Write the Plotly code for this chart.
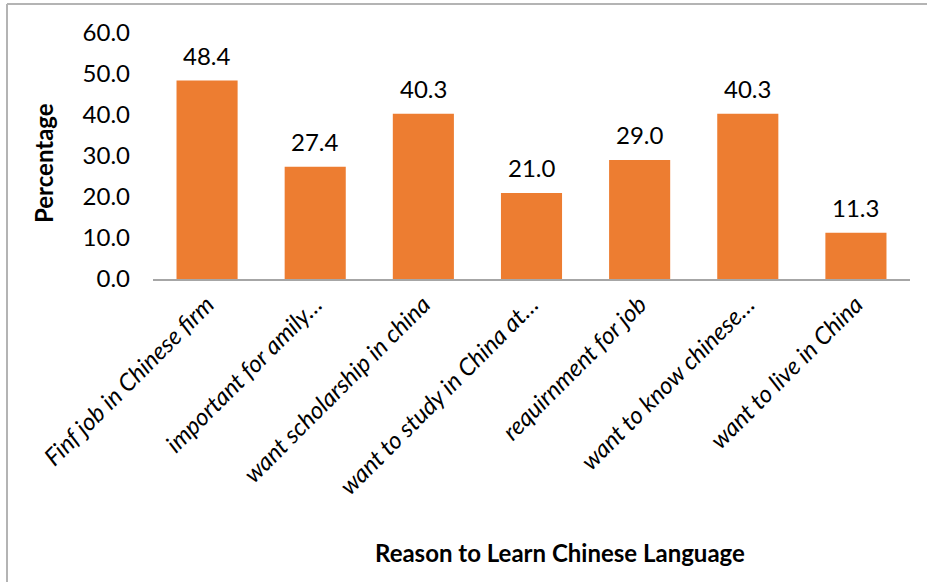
import plotly.graph_objects as go

# Survey: reasons for learning Chinese (percentage of respondents)
reasons = [
    "Finf job in Chinese firm",
    "important for amily…",
    "want scholarship in china",
    "want to study in China at…",
    "requirnment for job",
    "want to know chinese…",
    "want to live in China",
]
percentages = [48.4, 27.4, 40.3, 21.0, 29.0, 40.3, 11.3]
y_ticks = [0, 10, 20, 30, 40, 50, 60]

W, H = 927, 582
ML, MR, MT, MB = 153, 17, 33, 303
FONT = "Lato, Calibri, sans-serif"
BAR = "#ED7D31"
BORDER = "#B4B4B4"

pw, ph = W - ML - MR, H - MT - MB


def px_x(p):
    return (p - ML) / pw


def px_y(p):
    return (H - MB - p) / ph


fig = go.Figure(
    go.Bar(
        x=reasons,
        y=percentages,
        marker=dict(color=BAR, line=dict(width=0)),
        hoverinfo="x+y",
    )
)

# value labels above bars
for r, v in zip(reasons, percentages):
    fig.add_annotation(
        x=r, y=v, text=f"{v:.1f}", showarrow=False,
        yanchor="bottom", yshift=9,
        font=dict(family=FONT, size=24, color="#000000"),
    )

# axis titles
fig.add_annotation(
    xref="paper", yref="paper", x=px_x(43), y=px_y(163),
    xanchor="center", yanchor="middle",
    text="<b>Percentage</b>", textangle=-90, showarrow=False,
    font=dict(family=FONT, size=24, color="#000000"),
)
fig.add_annotation(
    xref="paper", yref="paper", x=px_x(560), y=px_y(552),
    xanchor="center", yanchor="middle",
    text="<b>Reason to Learn Chinese Language</b>", showarrow=False,
    font=dict(family=FONT, size=24, color="#000000"),
)

# chart-area frame (top and left edges)
left_x = px_x(7)
top_y = px_y(4)
fig.add_shape(type="line", xref="paper", yref="paper",
              x0=left_x, x1=px_x(W + 10), y0=top_y, y1=top_y,
              line=dict(color=BORDER, width=2))
fig.add_shape(type="line", xref="paper", yref="paper",
              x0=left_x, x1=left_x, y0=px_y(H + 10), y1=top_y,
              line=dict(color=BORDER, width=2))

fig.update_layout(
    width=W, height=H,
    margin=dict(l=ML, r=MR, t=MT, b=MB),
    paper_bgcolor="white", plot_bgcolor="white",
    bargap=0.435,
    showlegend=False,
    font=dict(family=FONT, color="#000000"),
    xaxis=dict(
        tickangle=-45,
        tickfont=dict(family=FONT, size=24, style="italic"),
        showline=True, linecolor="#A6A6A6", linewidth=2,
        ticks="", showgrid=False,
    ),
    yaxis=dict(
        range=[0, 60], tickvals=y_ticks,
        tickformat=".1f",
        tickfont=dict(family=FONT, size=24),
        showgrid=False, zeroline=False, showline=False,
        ticks="", ticklabelstandoff=22,
    ),
)

fig.write_html("out.html")
